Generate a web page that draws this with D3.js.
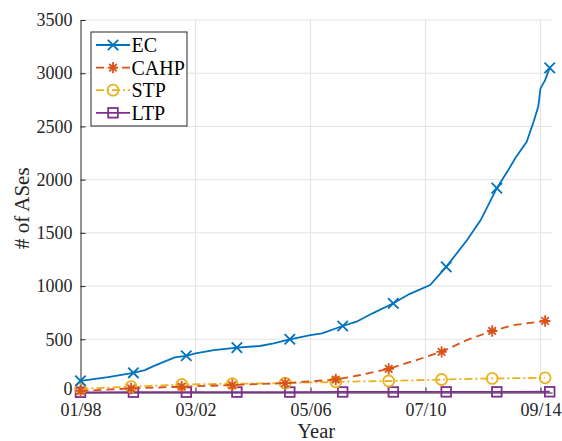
<!DOCTYPE html>
<html>
<head>
<meta charset="utf-8">
<script src="https://cdn.jsdelivr.net/npm/d3@7"></script>
<style>
  html, body { margin: 0; padding: 0; background: #fff; }
  svg { display: block; font-family: "Liberation Serif", "Times New Roman", serif; }
</style>
</head>
<body>
<svg id="chart" width="562" height="441"></svg>
<script>
// Months are counted from 01/1998.
const ecMonths = [0, 12, 23, 28, 32, 37, 41, 46, 50, 58, 68, 78, 84, 91, 100, 105, 114, 120, 127, 136, 143, 152, 159, 168, 174, 181, 186, 189, 194, 197, 199, 200, 202, 204];
const ecValues = [110, 145, 185, 210, 250, 295, 330, 345, 368, 398, 422, 437, 462, 500, 540, 556, 625, 665, 744, 838, 925, 1010, 1180, 1430, 1620, 1920, 2090, 2200, 2356, 2544, 2685, 2857, 2935, 3050];

const cahpMonths = [0, 22, 44, 66, 89, 111, 122, 134, 146, 157, 168, 179, 188, 202];
const cahpValues = [15, 38, 55, 70, 88, 122, 165, 222, 305, 382, 493, 578, 632, 672];

const stpMonths = [0, 22, 44, 66, 89, 111, 134, 157, 179, 202];
const stpValues = [35, 55, 75, 82, 88, 100, 108, 122, 132, 138];

const ltpMonths = [0, 23, 46, 68, 91, 114, 136, 159, 181, 204];
const ltpValues = [2, 3, 3, 4, 4, 5, 5, 6, 6, 7];

// Months that carry a marker on each series
const ecMarkerMonths = [0, 23, 46, 68, 91, 114, 136, 159, 181, 204];
const cahpMarkerMonths = [0, 22, 44, 66, 89, 111, 134, 157, 179, 202];
const stpMarkerMonths = [0, 22, 44, 66, 89, 111, 134, 157, 179, 202];
const ltpMarkerMonths = [0, 23, 46, 68, 91, 114, 136, 159, 181, 204];

const xTickMonths = [0, 50, 100, 150, 200];
const xTickLabels = ["01/98", "03/02", "05/06", "07/10", "09/14"];
const yTicks = [0, 500, 1000, 1500, 2000, 2500, 3000, 3500];

const seriesNames = ["EC", "CAHP", "STP", "LTP"];

const svg = d3.select("#chart");
const x = d3.scaleLinear().domain([0, 205]).range([80.5, 552]);
const y = d3.scaleLinear().domain([0, 3500]).range([392.5, 20]);

const axisColor = "#262626";
const gridColor = "#e3e3e3";
const lineWidth = 1.8;

// Grid
const grid = svg.append("g");
grid.selectAll("line.gy").data(yTicks.filter(d => d > 0)).join("line")
  .attr("x1", x(0)).attr("x2", x(205))
  .attr("y1", d => y(d)).attr("y2", d => y(d))
  .attr("stroke", gridColor).attr("stroke-width", 1);
grid.selectAll("line.gx").data(xTickMonths.filter(d => d > 0)).join("line")
  .attr("x1", d => x(d)).attr("x2", d => x(d))
  .attr("y1", y(0)).attr("y2", y(3500))
  .attr("stroke", gridColor).attr("stroke-width", 1);

// Axes (ticks point inward)
const xAxis = d3.axisBottom(x).tickValues(xTickMonths)
  .tickFormat((d, i) => xTickLabels[i]).tickSizeInner(-5).tickSizeOuter(0).tickPadding(11);
const yAxis = d3.axisLeft(y).tickValues(yTicks)
  .tickFormat(d3.format("d")).tickSizeInner(-5).tickSizeOuter(0).tickPadding(8);

const gx = svg.append("g").attr("transform", `translate(0,${y(0)})`).call(xAxis);
const gy = svg.append("g").attr("transform", `translate(${x(0)},0)`).call(yAxis);
[gx, gy].forEach(g => {
  g.select(".domain").attr("stroke", axisColor).attr("stroke-width", 1);
  g.selectAll(".tick line").attr("stroke", axisColor).attr("stroke-width", 1);
  g.selectAll(".tick text").attr("fill", axisColor)
    .style("font-family", "Liberation Serif, serif").style("font-size", "18px");
});
// lift the zero label slightly clear of the first date label
gy.selectAll(".tick text").filter(d => d === 0).attr("dy", "0.12em");

// Axis titles
svg.append("text").attr("x", (x(0) + x(205)) / 2).attr("y", 438)
  .attr("text-anchor", "middle").attr("fill", axisColor)
  .style("font-size", "20.5px").text("Year");
svg.append("text").attr("transform", `translate(29,${(y(0) + y(3500)) / 2 + 2}) rotate(-90)`)
  .attr("text-anchor", "middle").attr("fill", axisColor)
  .style("font-size", "21px").text("# of ASes");

// Marker shapes
function drawMarker(g, type, cx, cy, color) {
  const s = 5.2;
  if (type === "x") {
    g.append("path").attr("d", `M${cx - s},${cy - s}L${cx + s},${cy + s}M${cx - s},${cy + s}L${cx + s},${cy - s}`)
      .attr("stroke", color).attr("stroke-width", lineWidth).attr("fill", "none");
  } else if (type === "star") {
    const d = s * 0.72;
    g.append("path").attr("d",
      `M${cx - s},${cy}L${cx + s},${cy}M${cx},${cy - s - 0.5}L${cx},${cy + s + 0.5}` +
      `M${cx - d},${cy - d}L${cx + d},${cy + d}M${cx - d},${cy + d}L${cx + d},${cy - d}`)
      .attr("stroke", color).attr("stroke-width", lineWidth).attr("fill", "none");
  } else if (type === "circle") {
    g.append("circle").attr("cx", cx).attr("cy", cy).attr("r", 5.5)
      .attr("stroke", color).attr("stroke-width", lineWidth).attr("fill", "none");
  } else if (type === "square") {
    g.append("rect").attr("x", cx - 4.8).attr("y", cy - 4.8).attr("width", 9.6).attr("height", 9.6)
      .attr("stroke", color).attr("stroke-width", lineWidth).attr("fill", "none");
  }
}

const series = [
  { name: seriesNames[0], months: ecMonths, values: ecValues, marks: ecMarkerMonths, color: "#0072BD", dash: null, marker: "x" },
  { name: seriesNames[1], months: cahpMonths, values: cahpValues, marks: cahpMarkerMonths, color: "#D95319", dash: "8,5", marker: "star" },
  { name: seriesNames[2], months: stpMonths, values: stpValues, marks: stpMarkerMonths, color: "#EDB120", dash: "8,3,2,3", marker: "circle" },
  { name: seriesNames[3], months: ltpMonths, values: ltpValues, marks: ltpMarkerMonths, color: "#7E2F8E", dash: null, marker: "square" }
];

const line = d3.line().x(d => x(d[0])).y(d => y(d[1]));

// Draw in reverse so EC sits on top
series.slice().reverse().forEach(s => {
  const pts = s.months.map((m, i) => [m, s.values[i]]);
  const g = svg.append("g");
  g.append("path").datum(pts).attr("d", line)
    .attr("fill", "none").attr("stroke", s.color).attr("stroke-width", lineWidth)
    .attr("stroke-dasharray", s.dash);
  pts.filter(p => s.marks.includes(p[0]))
    .forEach(p => drawMarker(g, s.marker, x(p[0]), y(p[1]), s.color));
});

// Legend
const lg = svg.append("g");
lg.append("rect").attr("x", 91).attr("y", 32).attr("width", 96).attr("height", 94)
  .attr("fill", "#fff").attr("stroke", axisColor).attr("stroke-width", 1);
series.forEach((s, i) => {
  const cy = 45 + i * 22.6;
  lg.append("line").attr("x1", 96).attr("x2", 130).attr("y1", cy).attr("y2", cy)
    .attr("stroke", s.color).attr("stroke-width", lineWidth).attr("stroke-dasharray", s.dash);
  drawMarker(lg, s.marker, 113, cy, s.color);
  lg.append("text").attr("x", 131.5).attr("y", cy).attr("dy", "0.35em")
    .attr("fill", "#000").style("font-size", "20px").text(s.name);
});
</script>
</body>
</html>
